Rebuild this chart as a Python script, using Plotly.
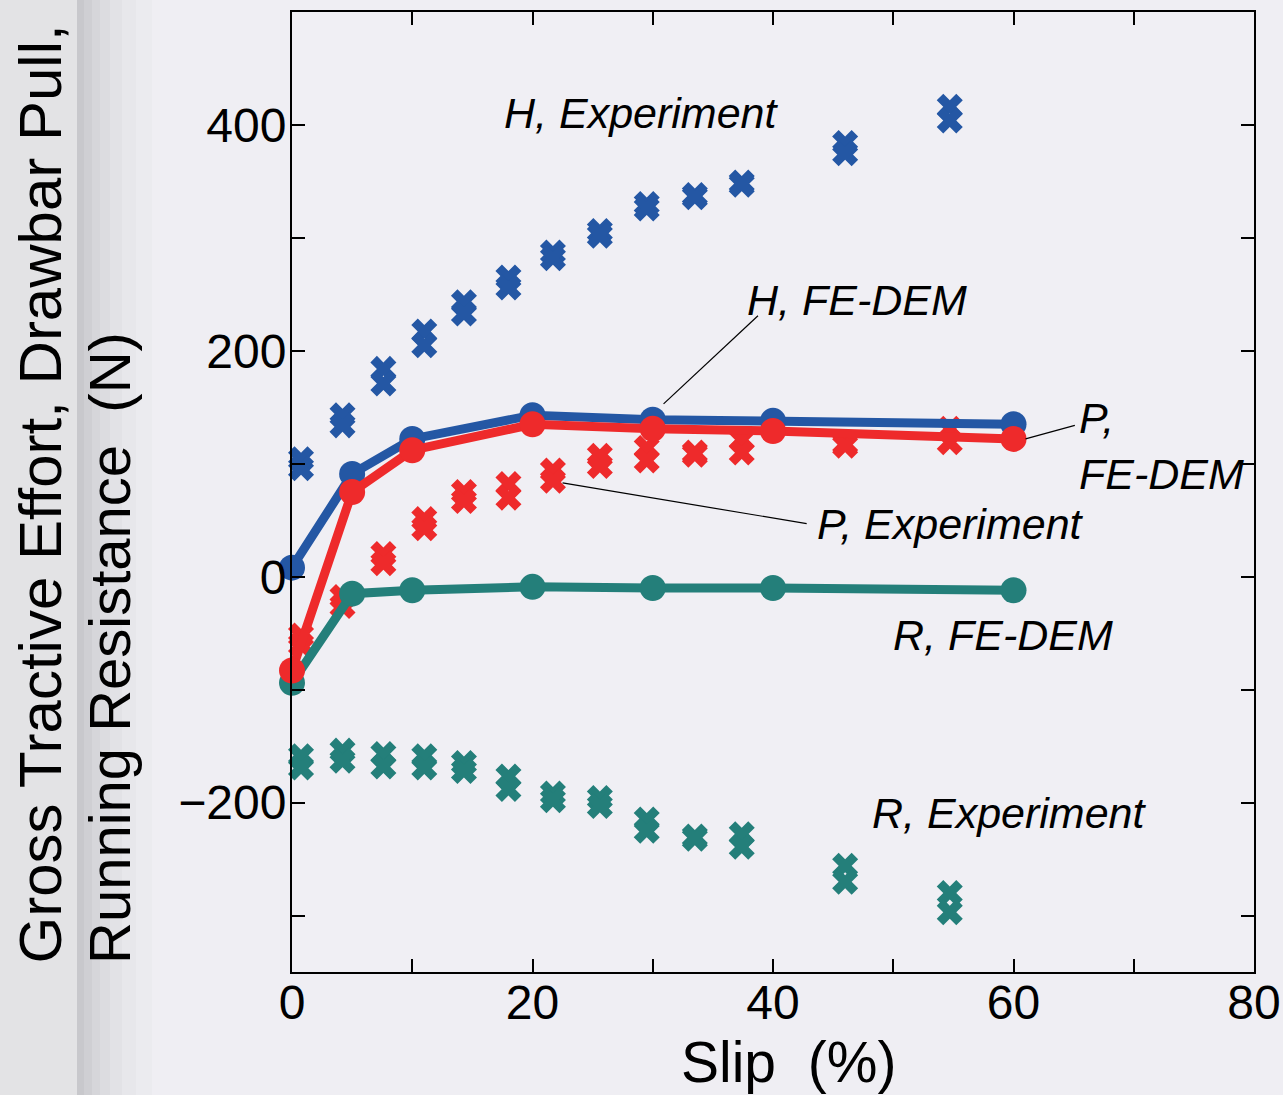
import plotly.graph_objects as go

# ---------------- data ----------------
slip_sim = [0, 5, 10, 20, 30, 40, 60]
H_sim = [8, 91, 122, 143, 139, 138, 135]
P_sim = [-83, 75, 112, 135, 131, 129, 122]
R_sim = [-94, -15, -12, -9, -10, -10, -12]

slip_exp = [0.75, 4.2, 7.6, 11.0, 14.3, 18.0, 21.7, 25.6, 29.5, 33.5, 37.4, 46.0, 54.7]
H_exp_a = [104, 143, 184, 217, 243, 265, 287, 306, 330, 338, 349, 384, 416]
H_exp_b = [96, 134, 171, 205, 233, 256, 282, 302, 326, 336, 347, 375, 404]
P_exp_a = [-52, -18, 20, 51, 75, 82, 94, 107, 114, 110, 121, 118, 131]
P_exp_b = [-60, -26, 12, 43, 67, 70, 85, 98, 103, 108, 110, 116, 119]
R_exp_a = [-159, -154, -157, -159, -165, -177, -192, -196, -215, -230, -228, -256, -280]
R_exp_b = [-169, -163, -168, -169, -172, -188, -198, -203, -225, -232, -239, -270, -297]

x_tickvals = [0, 10, 20, 30, 40, 50, 60, 70, 80]
x_ticktext = ["0", "", "20", "", "40", "", "60", "", "80"]
y_tickvals = [-300, -200, -100, 0, 100, 200, 300, 400, 500]
y_ticktext = ["", "\u2212200", "", "0", "", "200", "", "400", ""]

BLUE = "#2457a4"
RED = "#ee2a2b"
TEAL = "#247f7a"
FONT = "Liberation Sans, Arial, Helvetica, sans-serif"

fig = go.Figure()

# experiment markers (two runs each)
for ys, col in [(H_exp_a, BLUE), (H_exp_b, BLUE), (P_exp_a, RED), (P_exp_b, RED),
                (R_exp_a, TEAL), (R_exp_b, TEAL)]:
    fig.add_trace(go.Scatter(x=slip_exp, y=ys, mode="markers",
                             marker=dict(symbol="x", size=23, color=col, line=dict(width=0)),
                             showlegend=False, cliponaxis=False))

# FE-DEM lines
for ys, col in [(R_sim, TEAL), (H_sim, BLUE), (P_sim, RED)]:
    fig.add_trace(go.Scatter(x=slip_sim, y=ys, mode="lines+markers",
                             line=dict(color=col, width=9),
                             marker=dict(symbol="circle", size=26, color=col),
                             showlegend=False, cliponaxis=False))

# leader lines for labels
leaders = [
    (30.9, 153, 38.75, 231),
    (61.0, 122, 65.1, 134),
    (22.5, 83, 42.8, 47),
]
for x0, y0, x1, y1 in leaders:
    fig.add_shape(type="line", xref="x", yref="y", x0=x0, y0=y0, x1=x1, y1=y1,
                  line=dict(color="black", width=1.2))

lab_font = dict(family=FONT, size=43, color="black")
labels = [
    ("<i>H, Experiment</i>", 17.5, 411),
    ("<i>H, FE-DEM</i>", 37.7, 245),
    ("<i>P,</i><br><i>FE-DEM</i>", 65.3, 116),
    ("<i>P, Experiment</i>", 43.5, 47),
    ("<i>R, FE-DEM</i>", 49.8, -52),
    ("<i>R, Experiment</i>", 48.1, -209),
]
for txt, x, y in labels:
    fig.add_annotation(text=txt, x=x, y=y, xref="x", yref="y", showarrow=False,
                       xanchor="left", yanchor="middle", align="left", font=lab_font)

# y-axis title (two left-aligned lines)
fig.add_annotation(text="Gross Tractive Effort, Drawbar Pull,", textangle=-90,
                   xref="paper", yref="paper", x=(40 - 292) / 962, y=(972 - 966) / 960,
                   xanchor="center", yanchor="bottom", showarrow=False,
                   font=dict(family=FONT, size=60, color="black"))
fig.add_annotation(text="Running Resistance  (N)", textangle=-90,
                   xref="paper", yref="paper", x=(109 - 292) / 962, y=(972 - 966) / 960,
                   xanchor="center", yanchor="bottom", showarrow=False,
                   font=dict(family=FONT, size=58, color="black"))

# x-axis title
fig.add_annotation(text="Slip  (%)", xref="paper", yref="paper",
                   x=(788 - 292) / 962, y=(972 - 1062) / 960,
                   xanchor="center", yanchor="middle", showarrow=False,
                   font=dict(family=FONT, size=57, color="black"))

# paper texture on the left edge
strips = [
    (0, 77, "#e3e3e5"),
    (77, 84, "#c8c8cc"),
    (84, 92, "#cfcfd3"),
    (92, 100, "#d6d6da"),
    (100, 110, "#dcdce0"),
    (110, 122, "#e2e2e6"),
    (122, 136, "#e7e7eb"),
    (136, 152, "#ebebef"),
]
for a, b, c in strips:
    fig.add_shape(type="rect", xref="paper", yref="paper",
                  x0=(a - 292) / 962, x1=(b - 292) / 962, y0=-1, y1=2,
                  fillcolor=c, line=dict(width=0), layer="below")

axis_common = dict(showline=True, linecolor="black", linewidth=2, mirror="ticks",
                   ticks="inside", ticklen=13, tickwidth=2, tickcolor="black",
                   showgrid=False, zeroline=False, automargin=False,
                   tickfont=dict(family=FONT, size=48, color="black"))

fig.update_layout(
    width=1283, height=1095,
    margin=dict(l=292, r=29, t=12, b=123),
    paper_bgcolor="#efeef3", plot_bgcolor="#f0eff4",
    xaxis=dict(range=[0, 80], tickmode="array", tickvals=x_tickvals, ticktext=x_ticktext,
               ticklabelstandoff=-13, **axis_common),
    yaxis=dict(range=[-350, 500], tickmode="array", tickvals=y_tickvals, ticktext=y_ticktext,
               ticklabelstandoff=-6, **axis_common),
)

fig.write_html("out.html")
